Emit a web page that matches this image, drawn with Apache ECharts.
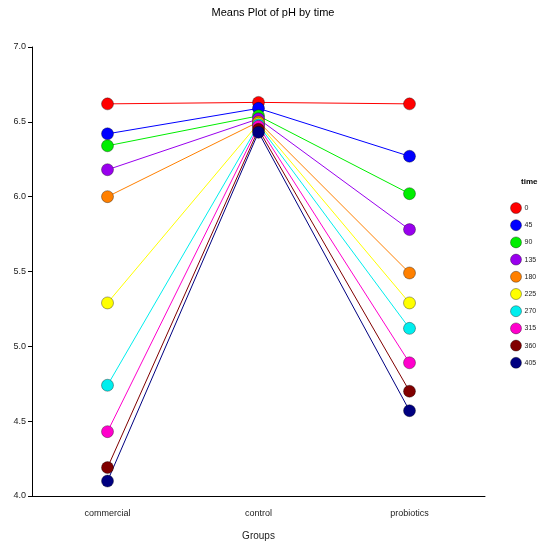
<!DOCTYPE html>
<html>
<head>
<meta charset="utf-8">
<script src="https://cdn.jsdelivr.net/npm/echarts@6/dist/echarts.min.js"></script>
<style>
  html, body { margin: 0; padding: 0; background: #fff; }
  #chart { width: 542px; height: 546px; }
</style>
</head>
<body>
<div id="chart"></div>
<script>
// Group means of pH at each sampling time
var groups = ['commercial', 'control', 'probiotics'];
var times = ['0', '45', '90', '135', '180', '225', '270', '315', '360', '405'];
var commercial = [6.62, 6.42, 6.34, 6.18, 6.00, 5.29, 4.74, 4.43, 4.19, 4.10];
var control    = [6.63, 6.59, 6.54, 6.52, 6.50, 6.49, 6.48, 6.47, 6.45, 6.43];
var probiotics = [6.62, 6.27, 6.02, 5.78, 5.49, 5.29, 5.12, 4.89, 4.70, 4.57];
var yTicks = [4.0, 4.5, 5.0, 5.5, 6.0, 6.5, 7.0];

var palette = ['#ff0000', '#0000ff', '#00ee00', '#9900ee', '#ff8000',
               '#ffff00', '#00eeee', '#ff00cc', '#800000', '#000080'];

var series = times.map(function (t, i) {
  return {
    name: t,
    type: 'line',
    data: [commercial[i], control[i], probiotics[i]],
    symbol: 'circle',
    symbolSize: 12,
    lineStyle: { width: 1, color: palette[i] },
    itemStyle: { color: palette[i], borderColor: 'rgba(0,0,0,0.35)', borderWidth: 1 },
    emphasis: { disabled: true },
    animation: false
  };
});

var chart = echarts.init(document.getElementById('chart'), null, { renderer: 'canvas' });
chart.setOption({
  backgroundColor: '#ffffff',
  color: palette,
  title: {
    text: 'Means Plot of pH by time',
    left: 268, top: 2, textAlign: 'center',
    textStyle: { fontFamily: 'Liberation Sans, Arial, sans-serif', fontSize: 11, fontWeight: 'normal', color: '#000' }
  },
  grid: { left: 32, top: 47, width: 453, height: 455, containLabel: false },
  xAxis: {
    type: 'category',
    data: groups,
    boundaryGap: true,
    name: 'Groups',
    nameLocation: 'middle',
    nameGap: 35,
    nameTextStyle: { fontFamily: 'Liberation Sans, Arial, sans-serif', fontSize: 10, color: '#222' },
    axisLine: { lineStyle: { color: '#000', width: 1 } },
    axisTick: { alignWithLabel: true, length: 4, lineStyle: { color: '#000' } },
    axisLabel: { margin: 13, fontFamily: 'Liberation Sans, Arial, sans-serif', fontSize: 9, color: '#222' },
    splitLine: { show: false }
  },
  yAxis: {
    type: 'value',
    min: yTicks[0], max: yTicks[yTicks.length - 1], interval: 0.5,
    axisLine: { show: true, lineStyle: { color: '#000', width: 1 } },
    axisTick: { show: true, length: 4, lineStyle: { color: '#000' } },
    axisLabel: {
      margin: 6,
      fontFamily: 'Liberation Sans, Arial, sans-serif', fontSize: 9, color: '#222',
      formatter: function (v) { return v.toFixed(1); }
    },
    splitLine: { show: false }
  },
  legend: {
    orient: 'vertical',
    left: 510, top: 202,
    padding: 0,
    icon: 'circle',
    itemWidth: 11, itemHeight: 11,
    itemGap: 5.2,
    data: times,
    itemStyle: { borderColor: 'rgba(0,0,0,0.35)', borderWidth: 1 },
    textStyle: { fontFamily: 'Liberation Sans, Arial, sans-serif', fontSize: 7, lineHeight: 8, color: '#222', padding: [0, 0, 3, -2] }
  },
  graphic: [{
    type: 'text',
    left: 521, top: 178,
    style: { text: 'time', font: 'bold 8px Liberation Sans, Arial, sans-serif', fill: '#000' }
  }],
  series: series
});
</script>
</body>
</html>
